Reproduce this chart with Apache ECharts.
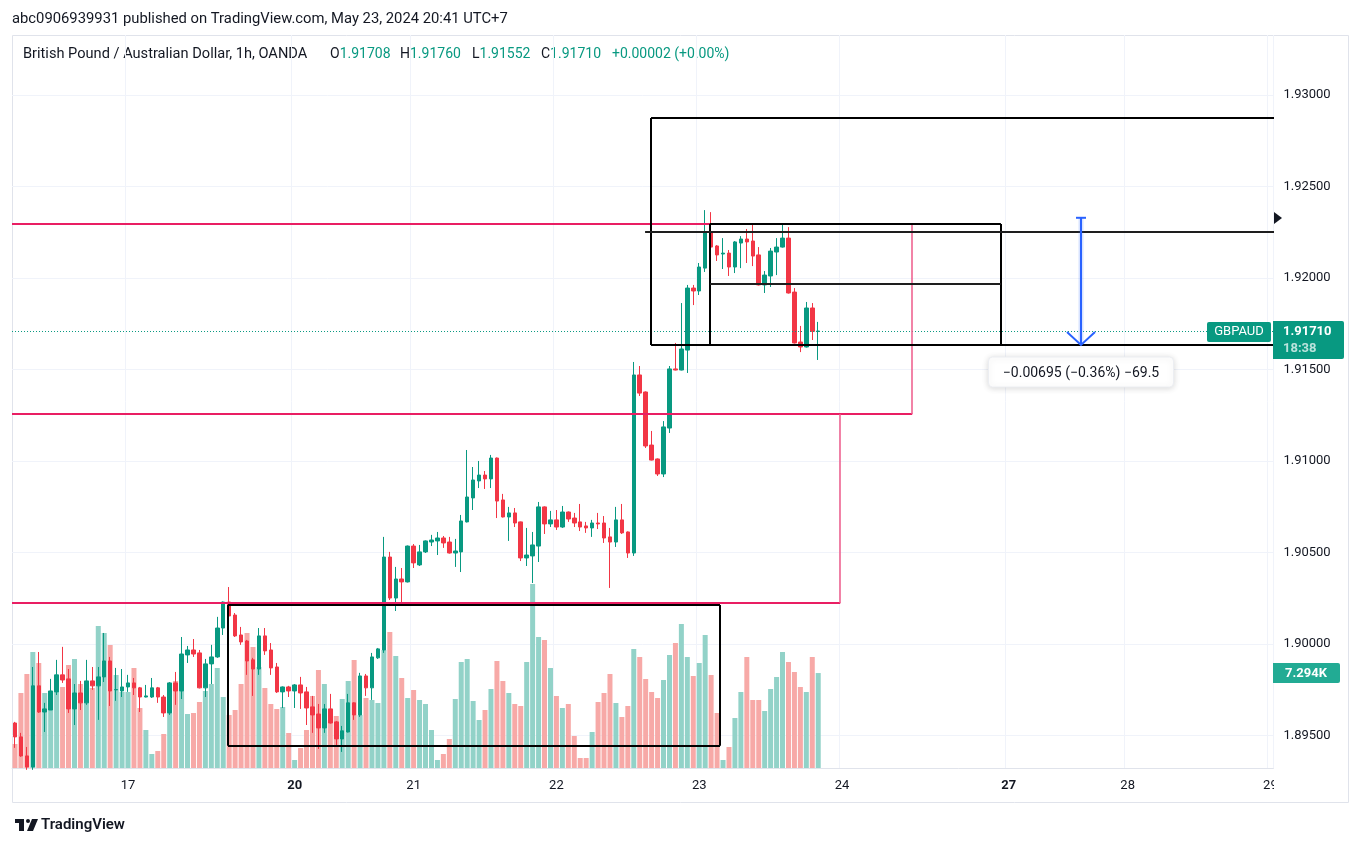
<!DOCTYPE html>
<html>
<head>
<meta charset="utf-8">
<title>GBPAUD 1h</title>
<script src="https://cdn.jsdelivr.net/npm/echarts@6.0.0/dist/echarts.min.js"></script>
<style>
html,body{margin:0;padding:0;background:#ffffff;}
#chart{width:1363px;height:846px;}
</style>
</head>
<body>
<div id="chart"></div>
<script>
// ---------------- DATA ----------------
// hourly sessions (UTC+7): [day, first hour, end hour (exclusive)]
const sessions = [['16',5,24],['17',0,24],['18',0,4],['20',4,24],['21',0,24],['22',0,24],['23',0,24],['24',0,24],['25',0,4],['27',4,24],['28',0,24],['29',0,1]];
const dayTicks = ['17','20','21','22','23','24','27','28','29'];
const boldDays = ['20','27'];
const priceTicks = [1.895,1.900,1.905,1.910,1.915,1.920,1.925,1.930];

const opens = [
1.89568,1.89492,1.89388,1.89328,1.89771,1.89628,1.89639,1.89738,1.89831,1.89809,
1.89645,1.89732,1.89678,1.89798,1.89771,1.89820,1.89907,1.89749,1.89743,1.89765,
1.89787,1.89760,1.89710,1.89710,1.89760,1.89710,1.89623,1.89787,1.89743,1.89940,
1.89967,1.89951,1.89760,1.89891,1.89929,1.90087,1.90229,1.90158,1.90049,1.90016,
1.89913,1.89863,1.90044,1.89967,1.89874,1.89738,1.89765,1.89743,1.89776,1.89738,
1.89656,1.89617,1.89541,1.89645,1.89574,1.89481,1.89519,1.89678,1.89612,1.89825,
1.89760,1.89924,1.89967,1.90475,1.90251,1.90355,1.90339,1.90535,1.90432,1.90503,
1.90557,1.90563,1.90579,1.90557,1.90497,1.90503,1.90667,1.90798,1.90891,1.90923,
1.90902,1.91016,1.90787,1.90694,1.90716,1.90667,1.90470,1.90481,1.90535,1.90749,
1.90656,1.90678,1.90639,1.90721,1.90688,1.90667,1.90645,1.90634,1.90661,1.90661,
1.90585,1.90557,1.90678,1.90612,1.90497,1.91470,1.91377,1.91087,1.91011,1.90929,
1.91180,1.91503,1.91497,1.91606,1.91945,1.91929,1.92054,1.92251,1.92175,1.92131,
1.92136,1.92060,1.92191,1.92213,1.92202,1.92126,1.91962,1.92011,1.92142,1.92169,
1.92218,1.91923,1.91650,1.91623,1.91836,1.91708];
const highs = [
1.89574,1.89514,1.89437,1.89874,1.89956,1.89678,1.89809,1.89913,1.89984,1.89863,
1.89781,1.89798,1.89913,1.89874,1.89874,1.90060,1.89929,1.89869,1.89863,1.89831,
1.89814,1.89765,1.89776,1.89814,1.89765,1.89721,1.89792,1.89847,1.90038,1.89989,
1.90027,1.89967,1.89918,1.89995,1.90148,1.90232,1.90311,1.90169,1.90093,1.90022,
1.89924,1.90087,1.90087,1.90005,1.89896,1.89768,1.89771,1.89781,1.89820,1.89765,
1.89716,1.89672,1.89672,1.89727,1.89579,1.89552,1.89727,1.89681,1.89842,1.89836,
1.89951,1.89978,1.90585,1.90503,1.90421,1.90415,1.90538,1.90546,1.90541,1.90566,
1.90596,1.90612,1.90590,1.90585,1.90574,1.90705,1.91060,1.90967,1.91000,1.90945,
1.91033,1.91019,1.90820,1.90749,1.90743,1.90669,1.90634,1.90612,1.90776,1.90752,
1.90727,1.90732,1.90754,1.90724,1.90716,1.90765,1.90667,1.90678,1.90716,1.90699,
1.90634,1.90749,1.90765,1.90615,1.91541,1.91519,1.91380,1.91164,1.91014,1.91218,
1.91519,1.91645,1.91863,1.91962,1.91962,1.92082,1.92371,1.92360,1.92180,1.92218,
1.92153,1.92202,1.92229,1.92268,1.92295,1.92169,1.92038,1.92164,1.92218,1.92300,
1.92278,1.91945,1.91738,1.91869,1.91863,1.91760];
const lows = [
1.89432,1.89383,1.89312,1.89312,1.89623,1.89519,1.89639,1.89721,1.89787,1.89623,
1.89557,1.89639,1.89667,1.89749,1.89585,1.89792,1.89661,1.89689,1.89710,1.89738,
1.89721,1.89628,1.89708,1.89705,1.89678,1.89601,1.89612,1.89667,1.89699,1.89896,
1.89929,1.89757,1.89710,1.89781,1.89924,1.90049,1.90120,1.90038,1.89995,1.89831,
1.89716,1.89831,1.89940,1.89831,1.89732,1.89650,1.89710,1.89650,1.89645,1.89557,
1.89514,1.89426,1.89514,1.89565,1.89437,1.89410,1.89516,1.89585,1.89601,1.89716,
1.89694,1.89918,1.89951,1.90240,1.90180,1.90224,1.90336,1.90415,1.90426,1.90497,
1.90535,1.90486,1.90525,1.90494,1.90421,1.90393,1.90664,1.90732,1.90852,1.90847,
1.90852,1.90688,1.90691,1.90563,1.90639,1.90453,1.90426,1.90333,1.90448,1.90601,
1.90639,1.90623,1.90634,1.90667,1.90639,1.90617,1.90607,1.90585,1.90628,1.90552,
1.90306,1.90530,1.90601,1.90470,1.90481,1.91355,1.91071,1.91003,1.90918,1.90912,
1.91153,1.91495,1.91495,1.91481,1.91852,1.91907,1.92033,1.92158,1.92093,1.92049,
1.92011,1.92027,1.92054,1.92082,1.92065,1.91959,1.91918,1.91951,1.92016,1.92166,
1.91915,1.91642,1.91595,1.91620,1.91661,1.91552];
const closes = [
1.89492,1.89388,1.89328,1.89771,1.89628,1.89645,1.89743,1.89831,1.89803,1.89645,
1.89732,1.89678,1.89798,1.89771,1.89820,1.89907,1.89743,1.89751,1.89765,1.89787,
1.89760,1.89710,1.89716,1.89760,1.89710,1.89623,1.89787,1.89743,1.89945,1.89967,
1.89945,1.89760,1.89891,1.89929,1.90087,1.90229,1.90153,1.90044,1.90011,1.89907,
1.89863,1.90044,1.89962,1.89869,1.89738,1.89765,1.89743,1.89776,1.89732,1.89650,
1.89612,1.89541,1.89645,1.89568,1.89481,1.89525,1.89678,1.89612,1.89825,1.89760,
1.89929,1.89973,1.90475,1.90251,1.90355,1.90339,1.90535,1.90443,1.90503,1.90563,
1.90568,1.90579,1.90552,1.90497,1.90508,1.90672,1.90803,1.90896,1.90923,1.90902,
1.91016,1.90781,1.90694,1.90716,1.90661,1.90470,1.90486,1.90541,1.90749,1.90656,
1.90678,1.90639,1.90721,1.90683,1.90661,1.90639,1.90634,1.90661,1.90656,1.90579,
1.90557,1.90678,1.90607,1.90497,1.91470,1.91371,1.91082,1.91005,1.90929,1.91186,
1.91503,1.91497,1.91612,1.91945,1.91929,1.92060,1.92251,1.92169,1.92126,1.92136,
1.92060,1.92197,1.92213,1.92197,1.92120,1.91962,1.92016,1.92147,1.92169,1.92218,
1.91918,1.91645,1.91623,1.91836,1.91708,1.91710];
const volumes = [
1843,5760,7219,8909,8064,5760,5914,5914,6221,7910,
8371,6451,6144,6144,10906,10368,9446,7142,5837,5837,
7680,4608,2918,1075,1306,2611,4224,6682,5914,4147,
4224,5069,5914,6451,7680,5453,4070,4454,6451,10368,
9293,7757,6144,4915,4531,4685,2688,614,1536,2918,
5530,7526,6451,3686,3994,5299,6682,8294,4070,5376,
5222,4992,9062,10445,8602,6912,5376,5990,5222,4915,
2918,614,1075,2227,5299,8141,8371,5146,3686,4454,
6067,8218,6682,5760,4915,4762,8141,14131,10061,9830,
7680,5530,4608,4915,2458,768,768,2765,5069,5760,
7219,4992,3917,4762,9139,8525,6835,5837,5376,6758,
8678,9600,11059,8525,7066,8064,10214,7142,4224,614,
1613,3840,5837,8525,5222,5222,4378,6067,6989,8909,
8141,7373,6221,5837,8525,7294];

// drawings in data space: [fromIndex, toIndex, topPrice, bottomPrice]
const redZones = [[-20, 150.8, 1.92295, 1.91257], [-20, 138.7, 1.91257, 1.90224]];
const blackBoxes = [[35.8, 118.5, 1.90213, 1.89443], [106.9, 260, 1.92874, 1.91634], [116.8, 165.7, 1.92295, 1.91634]];
const blackLines = [[116.8, 165.7, 1.91967], [105.9, 260, 1.92253]];
const measure = {index: 179.2, from: 1.92329, to: 1.91634, text: '\u22120.00695 (\u22120.36%) \u221269.5'};
const lastPrice = 1.91710, lastPriceText = '1.91710', countdown = '18:38', symbol = 'GBPAUD', lastVolText = '7.294K';
const headerTitle = 'abc0906939931 published on TradingView.com, May 23, 2024 20:41 UTC+7';
const legendName = 'British Pound / Australian Dollar, 1h, OANDA';
const legendOHLC = [['O','1.91708'],['H','1.91760'],['L','1.91552'],['C','1.91710']];
const legendChange = '+0.00002 (+0.00%)';

// ---------------- BUILD ----------------
const categories = [];
sessions.forEach(([d, s, e]) => { for (let h = s; h < e; h++) categories.push(d + ' ' + String(h).padStart(2, '0') + ':00'); });
const tickIdx = new Set(dayTicks.map(d => categories.findIndex(c => c.split(' ')[0] === d)));
const N = categories.length;

const FONT = 'Roboto, "Liberation Sans", Arial, sans-serif';
const UP = '#089981', DOWN = '#f23645', UPV = '#92d2c8', DOWNV = '#f7a9a7';
const RED = '#e91e63', INK = '#131722';

const candleData = opens.map((o, i) => [o, closes[i], lows[i], highs[i]]);
const volData = volumes.map((v, i) => ({value: v, itemStyle: {color: closes[i] >= opens[i] ? UPV : DOWNV}}));

function snapLine(a, b, w) {
  const off = (w % 2 === 1) ? 0.5 : 0;
  let [ax, ay] = a, [bx, by] = b;
  if (Math.abs(ay - by) < 0.01) { ay = by = Math.round(ay) + off; }
  if (Math.abs(ax - bx) < 0.01) { ax = bx = Math.round(ax) + off; }
  return {x1: ax, y1: ay, x2: bx, y2: by};
}

function renderDrawings(params, api) {
  const P = (x, p) => api.coord([x, p]);
  const els = [];
  const line = (x1, p1, x2, p2, stroke, w, dash) => {
    els.push({type: 'line', shape: snapLine(P(x1, p1), P(x2, p2), w), style: {stroke, lineWidth: w, lineDash: dash || null}});
  };
  // current price dotted line
  line(-1, lastPrice, N + 1, lastPrice, UP, 1, [1, 2]);
  redZones.forEach(z => {
    line(z[0], z[2], z[1], z[2], RED, 2);
    line(z[0], z[3], z[1], z[3], RED, 2);
    line(z[1], z[2], z[1], z[3], '#ee5a8a', 1.5);
  });
  blackBoxes.forEach(b => {
    line(b[0], b[2], b[1], b[2], '#000', 2);
    line(b[0], b[3], b[1], b[3], '#000', 2);
    line(b[0], b[2], b[0], b[3], '#000', 2);
    line(b[1], b[2], b[1], b[3], '#000', 2);
  });
  blackLines.forEach(l => line(l[0], l[2], l[1], l[2], '#1e1e1e', 2));
  // measurement arrow
  const top = P(measure.index, measure.from), bot = P(measure.index, measure.to);
  const ax = Math.round(top[0]);
  const blue = '#2962ff';
  els.push({type: 'line', shape: {x1: ax, y1: top[1], x2: ax, y2: bot[1]}, style: {stroke: 'rgba(41,98,255,0.18)', lineWidth: 5}});
  els.push({type: 'line', shape: {x1: ax, y1: top[1], x2: ax, y2: bot[1]}, style: {stroke: blue, lineWidth: 2}});
  els.push({type: 'line', shape: {x1: ax - 5, y1: top[1], x2: ax + 5, y2: top[1]}, style: {stroke: blue, lineWidth: 2}});
  els.push({type: 'polyline', shape: {points: [[ax - 14, bot[1] - 13], [ax, bot[1]], [ax + 14, bot[1] - 13]]}, style: {stroke: blue, lineWidth: 2, fill: null}});
  const bw = 185, bh = 30, by = Math.round(bot[1]) + 12;
  els.push({type: 'rect', shape: {x: ax - bw / 2, y: by, width: bw, height: bh, r: 4},
    style: {fill: '#ffffff', stroke: '#eceef2', lineWidth: 1, shadowBlur: 6, shadowColor: 'rgba(0,0,0,0.15)', shadowOffsetY: 1}});
  els.push({type: 'text', style: {x: ax, y: by + bh / 2 + 1, text: measure.text, fill: INK, font: '14px ' + FONT, align: 'center', verticalAlign: 'middle'}});
  return {type: 'group', children: els};
}

function renderPriceLabels(params, api) {
  const els = [];
  const pr = api.coord([N - 0.5, lastPrice]);
  const gr = Math.round(pr[0]), yc = Math.round(pr[1]);
  // symbol tag
  els.push({type: 'rect', shape: {x: gr - 66, y: yc - 9, width: 64, height: 20, r: 2}, style: {fill: UP}});
  els.push({type: 'text', style: {x: gr - 34, y: yc + 1, text: symbol, fill: '#fff', font: '13px ' + FONT, align: 'center', verticalAlign: 'middle'}});
  // price + countdown
  els.push({type: 'rect', shape: {x: gr, y: yc - 10, width: 71, height: 38, r: [0, 2, 2, 0]}, style: {fill: UP}});
  els.push({type: 'text', style: {x: gr + 10, y: yc + 1, text: lastPriceText, fill: '#fff', font: 'bold 13px ' + FONT, align: 'left', verticalAlign: 'middle'}});
  els.push({type: 'text', style: {x: gr + 10, y: yc + 18, text: countdown, fill: 'rgba(255,255,255,0.72)', font: 'bold 13px ' + FONT, align: 'left', verticalAlign: 'middle'}});
  // hidden drawing price marker
  const m = api.coord([N - 0.5, measure.from]);
  const my = Math.round(m[1]);
  els.push({type: 'polygon', shape: {points: [[gr + 1, my - 6], [gr + 9, my], [gr + 1, my + 6]]}, style: {fill: INK}});
  return {type: 'group', children: els};
}

function renderVolLabel(params, api) {
  const p = api.coord([N - 0.5, volumes[volumes.length - 1]]);
  const gr = Math.round(p[0]), yc = Math.round(p[1]);
  return {type: 'group', children: [
    {type: 'rect', shape: {x: gr, y: yc - 10, width: 67, height: 20, r: [0, 2, 2, 0]}, style: {fill: '#22ab94'}},
    {type: 'text', style: {x: gr + 33, y: yc + 1, text: lastVolText, fill: '#fff', font: 'bold 13px ' + FONT, align: 'center', verticalAlign: 'middle'}}
  ]};
}

const legendX = [330, 400, 472, 541];
const LEG = '14px ' + FONT;
const graphics = [
  {type: 'text', left: 12, top: 12, style: {text: headerTitle, fill: INK, font: '14.8px ' + FONT}},
  {type: 'rect', shape: {x: 12.5, y: 35.5, width: 1336, height: 767}, style: {fill: null, stroke: '#e0e3eb', lineWidth: 1}, z: -1},
  {type: 'text', left: 23, top: 47, style: {text: legendName, fill: INK, font: '14.6px ' + FONT}},
  ...legendOHLC.map((kv, i) => ({type: 'text', left: legendX[i], top: 47, style: {
      text: '{k|' + kv[0] + '}{v|' + kv[1] + '}', rich: {k: {fill: INK, font: LEG}, v: {fill: UP, font: LEG}}}})),
  {type: 'text', left: 612, top: 47, style: {text: legendChange, fill: UP, font: LEG}},
  // mask over the cut time label at the scale edge
  {type: 'rect', z: 100, shape: {x: 1274, y: 772, width: 74, height: 28}, style: {fill: '#ffffff'}},
  // TradingView logo
  {type: 'group', left: 15, top: 819, children: [
    {type: 'rect', shape: {x: 0, y: 0, width: 9, height: 4}, style: {fill: INK}},
    {type: 'rect', shape: {x: 4, y: 0, width: 5, height: 12}, style: {fill: INK}},
    {type: 'circle', shape: {cx: 13, cy: 2, r: 2}, style: {fill: INK}},
    {type: 'polygon', shape: {points: [[17, 0], [23, 0], [18, 12], [12, 12]]}, style: {fill: INK}}
  ]},
  {type: 'text', left: 41, top: 818, style: {text: 'TradingView', fill: INK, font: '600 15px ' + FONT}}
];

const option = {
  animation: false,
  backgroundColor: '#ffffff',
  textStyle: {fontFamily: FONT},
  graphic: graphics,
  grid: {left: 12, top: 35, width: 1261.4, height: 733, outerBoundsMode: 'none', containLabel: false},
  xAxis: [
    {type: 'category', data: categories, boundaryGap: true,
      axisLine: {show: true, lineStyle: {color: '#e0e3eb'}}, axisTick: {show: false},
      axisLabel: {interval: (i) => tickIdx.has(i), margin: 11, color: INK, fontSize: 13, fontFamily: FONT,
        formatter: (v) => { const d = v.split(' ')[0]; return boldDays.includes(d) ? '{b|' + d + '}' : d; },
        rich: {b: {fontWeight: 'bold', fontSize: 13, color: INK, fontFamily: FONT}}},
      splitLine: {show: true, interval: (i) => tickIdx.has(i), lineStyle: {color: '#f0f3fa', width: 1}}},
    {type: 'value', min: -0.5, max: N - 0.5, show: false}
  ],
  yAxis: [
    {type: 'value', position: 'right', min: 1.89322, max: 1.93328,
      axisLine: {show: false}, axisTick: {show: false, customValues: priceTicks},
      axisLabel: {customValues: priceTicks, formatter: (v) => v.toFixed(5), color: INK, fontSize: 13, fontFamily: FONT, margin: 10},
      splitLine: {show: true, lineStyle: {color: '#f0f3fa', width: 1}}},
    {type: 'value', min: 0, max: 56300, show: false}
  ],
  series: [
    {type: 'bar', name: 'Volume', xAxisIndex: 0, yAxisIndex: 1, data: volData, barWidth: 5, z: 1, silent: true},
    {type: 'candlestick', name: 'GBPAUD', xAxisIndex: 0, yAxisIndex: 0, data: candleData, barWidth: 4, z: 2, silent: true,
      itemStyle: {color: UP, color0: DOWN, borderColor: UP, borderColor0: DOWN, borderWidth: 1}},
    {type: 'custom', name: 'drawings', xAxisIndex: 1, yAxisIndex: 0, clip: true, z: 3, silent: true, data: [[0, lastPrice]], renderItem: renderDrawings},
    {type: 'custom', name: 'priceLabels', xAxisIndex: 1, yAxisIndex: 0, clip: false, z: 4, silent: true, data: [[0, lastPrice]], renderItem: renderPriceLabels},
    {type: 'custom', name: 'volLabel', xAxisIndex: 1, yAxisIndex: 1, clip: false, z: 4, silent: true, data: [[0, 0]], renderItem: renderVolLabel}
  ]
};
const chart = echarts.init(document.getElementById('chart'));
chart.setOption(option);
</script>
</body>
</html>
